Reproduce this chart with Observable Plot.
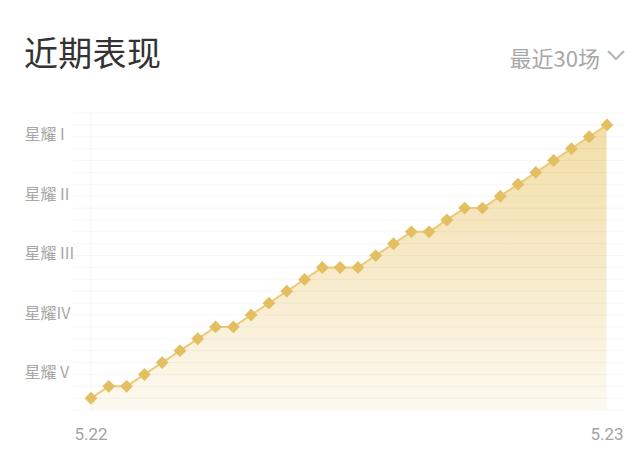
<!DOCTYPE html>
<html>
<head>
<meta charset="utf-8">
<script src="https://cdn.jsdelivr.net/npm/d3@7"></script>
<script src="https://cdn.jsdelivr.net/npm/@observablehq/plot@0.6"></script>
<style>
  html, body { margin: 0; padding: 0; background: #ffffff; }
  #wrap { width: 640px; height: 458px; position: relative; overflow: hidden; font-family: "Noto Sans CJK SC", "Noto Sans", sans-serif; }
  #header { position: relative; width: 640px; height: 100px; }
  #title { position: absolute; left: 24px; top: 32px; font-size: 34px; line-height: 40px; color: #333333; letter-spacing: 0.3px; }
  #range { position: absolute; right: 40px; top: 42px; font-size: 22px; line-height: 30px; color: #a8a8a8; }
  #chev { position: absolute; left: 606px; top: 48px; }
  #chart svg { display: block; }
</style>
</head>
<body>
<div id="wrap">
  <div id="header">
    <div id="title">近期表现</div>
    <div id="range">最近30场</div>
    <svg id="chev" width="20" height="14" viewBox="0 0 20 14"><polyline points="2,3 10,11 18,3" fill="none" stroke="#b4b4b4" stroke-width="2"/></svg>
  </div>
  <div id="chart"></div>
</div>
<script>
// Data (star count over the last 30 matches)
const matchIndex = d3.range(0, 30);
const stars = [1, 2, 2, 3, 4, 5, 6, 7, 7, 8, 9, 10, 11, 12, 12, 12, 13, 14, 15, 15, 16, 17, 17, 18, 19, 20, 21, 22, 23, 24];
const tierTicks = [3, 8, 13, 18, 23];
const tierLabels = ["星耀 V", "星耀IV", "星耀 III", "星耀 II", "星耀 I"];
const xTicks = [0, 29];
const xTickLabels = ["5.22", "5.23"];
const gridStars = d3.range(0, 26);

const data = matchIndex.map((i) => ({ i, v: stars[i] }));

const svg = Plot.plot({
  width: 640,
  height: 358,
  marginLeft: 90.5,
  marginRight: 33.5,
  marginTop: 12.5,
  marginBottom: 48.4,
  style: { fontFamily: "Roboto, 'Noto Sans CJK SC', sans-serif", background: "transparent" },
  x: { domain: [0, 29] },
  y: { domain: [0, 25] },
  marks: [
    Plot.areaY(data, { x: "i", y: "v", fill: "url(#goldGrad)" }),
    Plot.ruleY(gridStars, { stroke: "#000", strokeOpacity: 0.035, strokeWidth: 1, insetLeft: -18, insetRight: -18 }),
    Plot.ruleX([0], { stroke: "#000", strokeOpacity: 0.03 }),
    Plot.lineY(data, { x: "i", y: "v", stroke: "#ecca7a", strokeWidth: 2 }),
    Plot.dot(data, { x: "i", y: "v", symbol: "diamond2", r: 5.8, fill: "#e4bf62", stroke: "none" }),
    Plot.axisY({
      ticks: tierTicks,
      tickFormat: (d) => tierLabels[tierTicks.indexOf(d)],
      tickSize: 0,
      tickPadding: 0,
      textAnchor: "start",
      dx: -66.5,
      dy: -1.5,
      fontSize: 16,
      color: "#a8a8a8",
      fontFamily: "'Noto Sans CJK SC', sans-serif",
      label: null
    }),
    Plot.axisX({
      ticks: xTicks,
      tickFormat: (d) => xTickLabels[xTicks.indexOf(d)],
      tickSize: 0,
      tickPadding: 18,
      fontSize: 17,
      color: "#a3a3a3",
      label: null
    })
  ]
});

const defs = d3.select(svg).insert("defs", ":first-child");
const grad = defs.append("linearGradient")
  .attr("id", "goldGrad")
  .attr("gradientUnits", "userSpaceOnUse")
  .attr("x1", 0).attr("x2", 0)
  .attr("y1", 24).attr("y2", 310);
grad.append("stop").attr("offset", 0).attr("stop-color", "#f2dea7");
grad.append("stop").attr("offset", 0.5).attr("stop-color", "#f7eac9");
grad.append("stop").attr("offset", 1).attr("stop-color", "#fdf9f0");

document.getElementById("chart").appendChild(svg);
</script>
</body>
</html>
